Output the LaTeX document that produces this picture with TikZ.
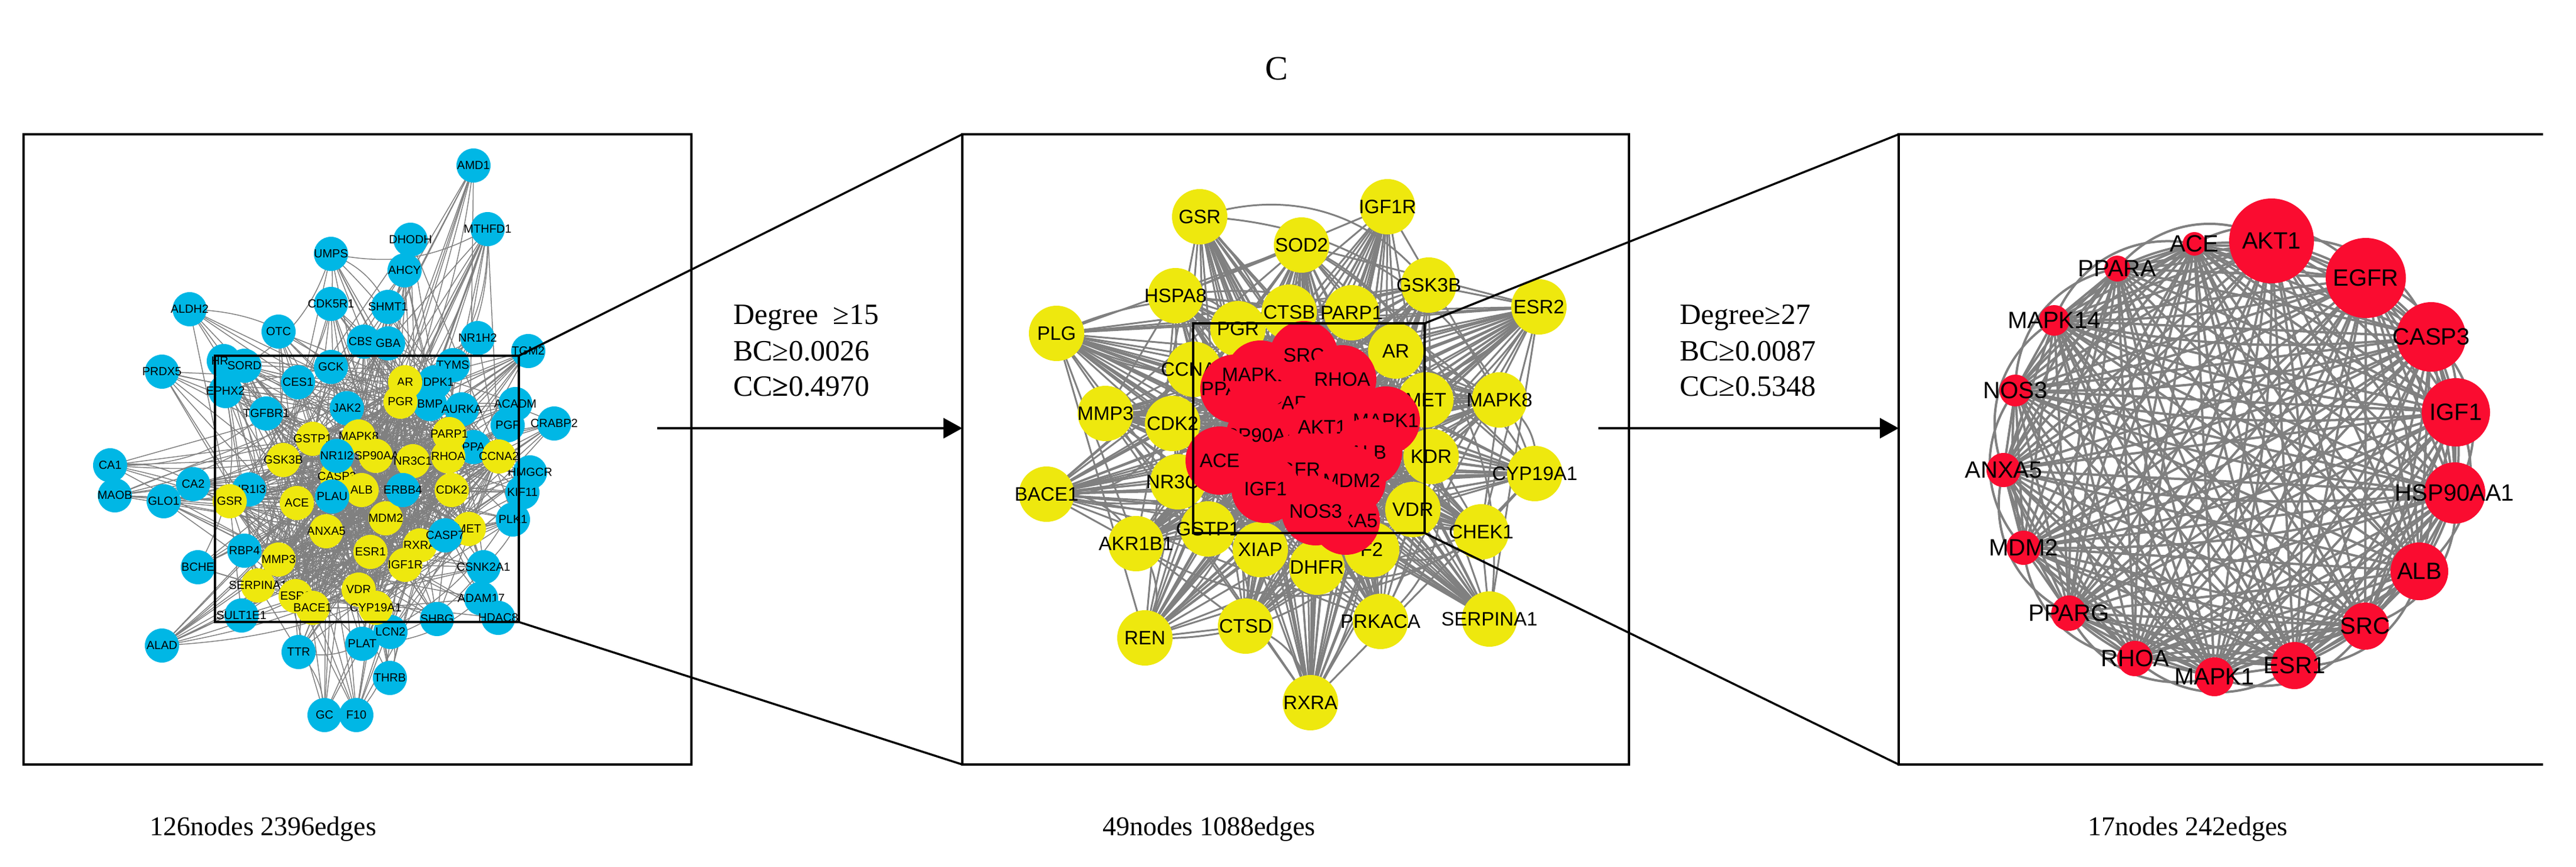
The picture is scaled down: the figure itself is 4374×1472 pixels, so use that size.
\documentclass[tikz,border=0pt]{standalone}
\usepackage{fontspec}
\setmainfont{Liberation Serif}
\newfontfamily\arialf{Liberation Sans}
\usetikzlibrary{arrows.meta}
\definecolor{nblue}{RGB}{0,183,229}
\definecolor{nyel}{RGB}{238,232,14}
\definecolor{nred}{RGB}{250,12,48}
\definecolor{egray}{RGB}{128,128,128}
\pgfdeclarelayer{bg}
\pgfdeclarelayer{paper}
\pgfsetlayers{paper,bg,main}
\begin{document}
\begin{tikzpicture}[x=1pt,y=-1pt,
  boxline/.style={line width=4pt,black},
  ledge/.style={egray,line width=1.5pt},
  medge/.style={egray,line width=3pt},
  redge/.style={egray,line width=4pt},
  ltxt/.style={font=\arialf\fontsize{20}{20}\selectfont,inner sep=0pt},
  mtxt/.style={font=\arialf\fontsize{33}{33}\selectfont,inner sep=0pt},
  rtxt/.style={font=\arialf\fontsize{40}{40}\selectfont,inner sep=0pt},
  crit/.style={font=\fontsize{50}{50}\selectfont,anchor=base west,inner sep=0pt},
  cnt/.style={font=\fontsize{46}{46}\selectfont,anchor=base,inner sep=0pt}]
\useasboundingbox (0,0) rectangle (4374,1472);
\begin{pgfonlayer}{paper}
\fill[white] (0,0) rectangle (4374,1472);
\end{pgfonlayer}
\pgfmathsetseed{42}
% title
\node[font=\fontsize{58}{58}\selectfont] (title) at (2168,117) {C};
% ---------- left panel ----------
\foreach \t/\x/\y [count=\i] in {AMD1/804/281, MTHFD1/828/389, DHODH/697/407, UMPS/562/431, AHCY/687/459, CDK5R1/562/516, SHMT1/659/521, ALDH2/322/525, OTC/473/563, CBSL/618/580, GBA/659/583, NR1H2/811/574, TGM2/897/596, HRS/380/613, SORD/415/621, PRDX5/275/631, GCK/562/623, TYMS/769/620, CES1/506/649, PDPK1/738/649, EPHX2/383/664, ACADM/875/686, TGFBR1/452/702, JAK2/589/693, BMP/730/686, AURKA/784/695, PGF/862/722, CRABP2/941/719, CA1/187/790, MAOB/195/841, GLO1/278/851, CA2/328/822, NR1I3/423/831, PPA/804/759, HMGCR/900/802, KIF11/887/836, PLK1/871/882, RBP4/415/935, BCHE/336/963, CSNK2A1/821/963, SULT1E1/410/1045, ADAM17/817/1016, HDAC8/846/1049, SHBG/742/1051, LCN2/663/1073, PLAT/615/1093, TTR/507/1107, ALAD/275/1096, THRB/662/1151, GC/551/1214, F10/605/1214}
  {\fill[nblue] (\x,\y) circle (29pt); \node[ltxt] (B\i) at (\x,\y) {\t};}
\foreach \t/\x/\y [count=\i] in {AR/688/649, PGR/680/682, GSTP1/531/745, MAPK8/609/741, PARP1/763/737, HSP90AA1/638/774, NR3C1/701/783, RHOA/761/775, CCNA2/847/775, GSK3B/481/781, CASP3/572/809, ALB/614/832, ACE/504/854, CDK2/767/832, GSR/390/851, MDM2/655/880, ANXA5/554/902, MET/796/898, RXRA/713/926, ESR1/629/937, MMP3/473/950, IGF1R/688/959, SERPINA1/438/994, ESR2/502/1012, VDR/609/1001, BACE1/531/1032, CYP19A1/638/1032}
  {\fill[nyel] (\x,\y) circle (29pt); \node[ltxt] (Y\i) at (\x,\y) {\t};}
\foreach \t/\x/\y [count=\i] in {NR1I2/572/774, PLAU/564/843, ERBB4/684/832, CASP7/756/909}
  {\fill[nblue] (\x,\y) circle (29pt); \node[ltxt] (C\i) at (\x,\y) {\t};}
\begin{pgfonlayer}{bg}
\foreach \i in {1,...,51}{\foreach \j in {1,...,27}{
  \pgfmathsetmacro\r{rnd}\ifdim\r pt<0.3pt \draw[ledge] (B\i.center) -- (Y\j.center);\fi}}
\foreach \i in {1,...,51}{\foreach \j in {1,...,51}{\ifnum\i<\j
  \pgfmathsetmacro\r{rnd}\ifdim\r pt<0.05pt \draw[ledge] (B\i.center) to[bend left=20] (B\j.center);\fi\fi}}
\foreach \i in {1,...,27}{\foreach \j in {1,...,27}{\ifnum\i<\j
  \pgfmathsetmacro\r{rnd}\ifdim\r pt<0.8pt \draw[ledge] (Y\i.center) -- (Y\j.center);\fi\fi}}
\foreach \i in {1,...,4}{\foreach \j in {1,...,27}{\draw[ledge] (C\i.center) -- (Y\j.center);}}
\end{pgfonlayer}
\draw[boxline] (40,228) rectangle (1174,1298);
\draw[boxline] (365,604) rectangle (881,1056);
\coordinate (lzt) at (881,604); \coordinate (lzb) at (881,1056);
% ---------- middle panel ----------
\foreach \t/\x/\y [count=\i] in {GSR/2037/368, SOD2/2210/416, IGF1R/2356/351, GSK3B/2426/484, ESR2/2613/521, HSPA8/1996/502, CTSB/2189/530, PARP1/2295/531, PGR/2102/558, PLG/1794/566, AR/2370/596, CCNA2/2027/627, MET/2421/679, MAPK8/2546/679, MMP3/1877/702, CDK2/1991/719, KDR/2430/775, CYP19A1/2606/804, BACE1/1777/839, NR3C1/2000/818, VDR/2399/865, CHEK1/2515/903, AKR1B1/1929/923, GSTP1/2051/898, XIAP/2140/933, DHFR/2236/963, F2/2329/933, REN/1944/1083, CTSD/2115/1063, PRKACA/2344/1055, SERPINA1/2529/1051, RXRA/2225/1193}
  {\fill[nyel] (\x,\y) circle (47pt); \node[mtxt] (M\i) at (\x,\y) {\t};}
\foreach \t/\x/\y [count=\i] in {ESR1/2230/700, CASP3/2262/790, PPARA/2189/684, ANXA5/2285/884, PPARG/2096/660, MAPK14/2140/636, SRC/2214/603, RHOA/2279/644, HSP90AA1/2140/739, AKT1/2245/725, MAPK1/2353/714, ALB/2323/768, ACE/2071/782, EGFR/2196/797, IGF1/2149/830, MDM2/2295/816, NOS3/2234/868}
  {\fill[nred] (\x,\y) circle (58pt); \node[mtxt] (N\i) at (\x,\y) {\t};}
\begin{pgfonlayer}{bg}
\foreach \i in {1,...,32}{\foreach \j in {1,...,17}{\draw[medge] (M\i.center) -- (N\j.center);}}
\foreach \i in {1,...,32}{\foreach \j in {1,...,32}{\ifnum\i<\j
  \pgfmathsetmacro\r{rnd}\ifdim\r pt<0.35pt \draw[medge] (M\i.center) -- (M\j.center);\fi
  \pgfmathsetmacro\r{rnd}\ifdim\r pt<0.08pt \draw[medge] (M\i.center) to[bend left=35] (M\j.center);\fi\fi}}
\end{pgfonlayer}
\draw[boxline] (1634,228) rectangle (2766,1298);
\draw[boxline] (2026,549) rectangle (2419,905);
\coordinate (mzt) at (2419,549); \coordinate (mzb) at (2419,905);
% ---------- right panel ----------
\foreach \t/\x/\y/\rr [count=\i] in {AKT1/3857/409/72, EGFR/4017/472/68, CASP3/4128/572/59, IGF1/4170/700/58, HSP90AA1/4168/837/52, ALB/4108/970/49, SRC/4016/1063/40, ESR1/3896/1130/40, MAPK1/3760/1149/33, RHOA/3625/1118/30, PPARG/3513/1041/30, MDM2/3436/930/29, ANXA5/3402/798/29, NOS3/3422/663/27, MAPK14/3488/544/26, PPARA/3595/456/22, ACE/3726/414/20}
  {\fill[nred] (\x,\y) circle (\rr pt); \node[rtxt] (R\i) at (\x,\y) {\t};}
\begin{pgfonlayer}{bg}
\foreach \i in {1,...,17}{\foreach \j in {1,...,17}{\ifnum\i<\j \draw[redge] (R\i.center) -- (R\j.center);
  \pgfmathsetmacro\r{rnd}\ifdim\r pt<0.6pt \draw[redge] (R\i.center) to[bend left=8] (R\j.center);\fi\fi}}
\foreach \a/\b in {1/3,2/4,4/6,5/7,7/9,8/10,9/11,10/12,11/13,12/14,13/15,14/16,15/17,17/2,6/8,3/5,16/1}
  {\draw[redge] (R\a.center) to[bend left=40] (R\b.center);}
\end{pgfonlayer}
\coordinate (rtr) at (4318,228); \coordinate (rbr) at (4318,1298);
\coordinate (rtl) at (3224,228); \coordinate (rbl) at (3224,1298);
\draw[boxline] (rtr) -- (rtl) -- (rbl) -- (rbr);
% ---------- zoom lines ----------
\coordinate (mtl) at (1634,228); \coordinate (mbl) at (1634,1298);
\draw[line width=3.5pt] (lzt) -- (mtl);
\draw[line width=3.5pt] (lzb) -- (mbl);
\draw[line width=3.5pt] (mzt) -- (rtl);
\draw[line width=3.5pt] (mzb) -- (rbl);
% ---------- arrows and criteria ----------
\coordinate (a1s) at (1116,727); \coordinate (a1e) at (1634,727);
\coordinate (a2s) at (2714,727); \coordinate (a2e) at (3224,727);
\draw[line width=4pt,-{Triangle[length=32pt,width=34pt]}] (a1s) -- (a1e);
\draw[line width=4pt,-{Triangle[length=32pt,width=34pt]}] (a2s) -- (a2e);
\node[crit] (c1a) at (1245,550) {Degree\ \ ≥15};
\node[crit] (c1b) at (1245,612) {BC≥0.0026};
\node[crit] (c1c) at (1245,672) {CC\textbf{≥}0.4970};
\node[crit] (c2a) at (2852,550) {Degree≥27};
\node[crit] (c2b) at (2852,612) {BC≥0.0087};
\node[crit] (c2c) at (2852,672) {CC≥0.5348};
% ---------- counts ----------
\node[cnt] (n1) at (447,1418) {126nodes 2396edges};
\node[cnt] (n2) at (2053,1418) {49nodes 1088edges};
\node[cnt] (n3) at (3715,1418) {17nodes 242edges};
\end{tikzpicture}
\end{document}
